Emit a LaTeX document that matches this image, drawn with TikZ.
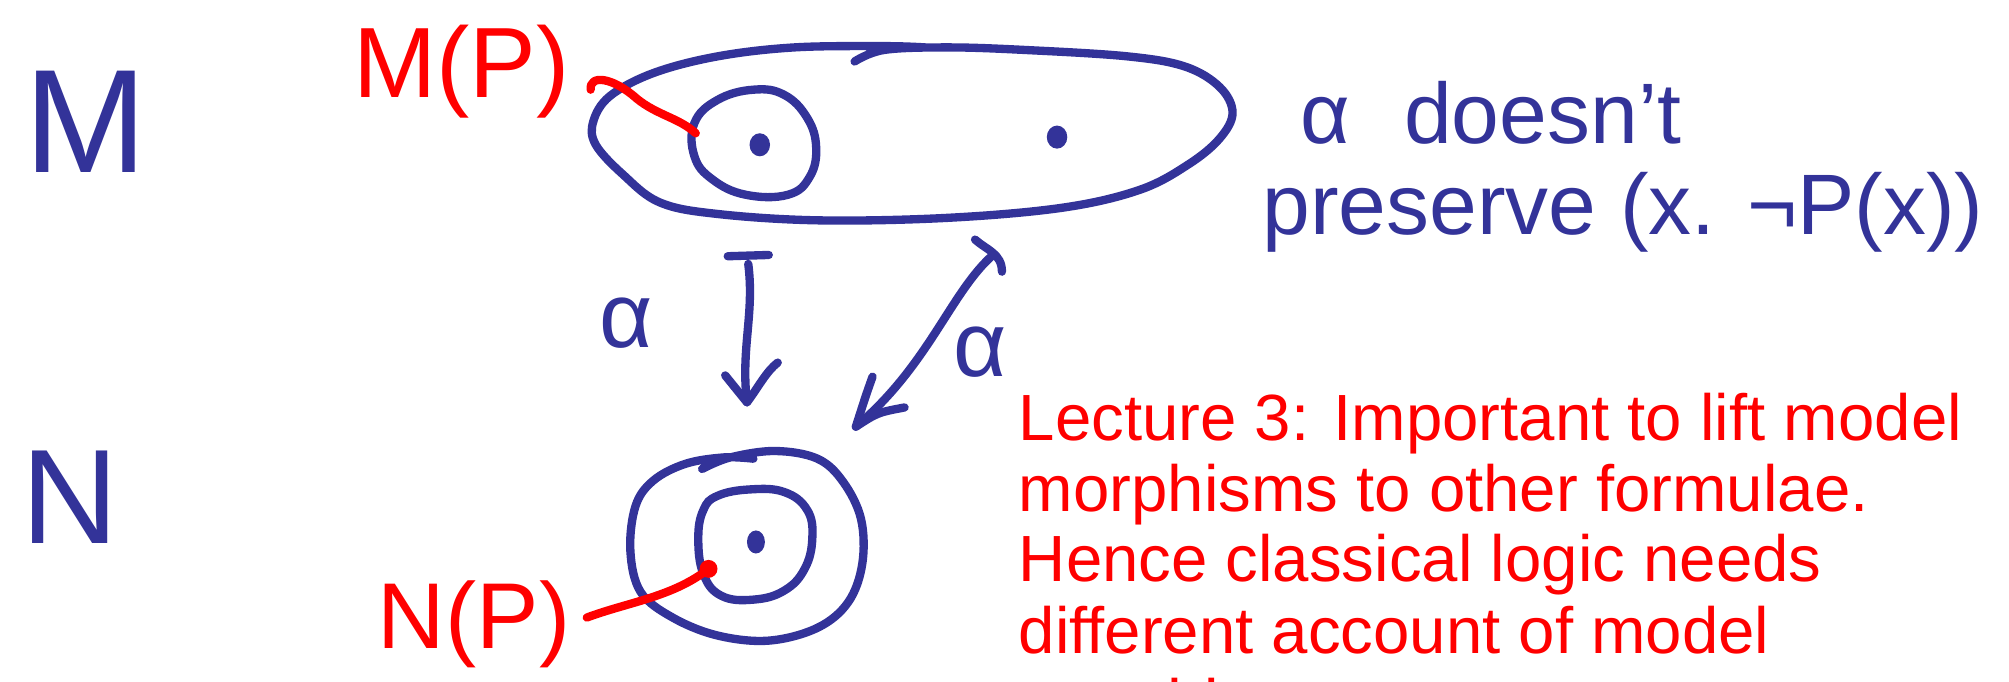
\documentclass[tikz,border=0pt]{standalone}
\usepackage{fontspec}
\setmainfont{Liberation Sans}
\definecolor{ink}{RGB}{51,51,153}
\definecolor{redink}{RGB}{255,0,0}
\tikzset{
  pen/.style={draw=ink, line width=6.5pt, line cap=round, line join=round},
  redpen/.style={draw=redink, line width=6.5pt, line cap=round, line join=round},
  hand/.style={text=ink, inner sep=0pt},
  redhand/.style={text=redink, inner sep=0pt},
  lect/.style={text=redink, anchor=base west, inner sep=0pt, font=\fontsize{51}{55}\selectfont},
}
\begin{document}
\begin{tikzpicture}[x=1pt,y=-1pt]
\useasboundingbox (0,0) rectangle (1568,532);
\clip (0,0) rectangle (1568,532);
\fill[white] (0,0) rectangle (1568,532);

% ---- model labels
\node[hand, font=\fontsize{115}{115}\selectfont] (Mlab) at (67,95) {M};
\node[hand, font=\fontsize{105}{105}\selectfont] (Nlab) at (55,388) {N};

% ---- model M blob
\draw[pen] plot[smooth, tension=0.6] coordinates {
  (667,48) (690,39) (740,37) (800,39) (880,44) (925,52) (952,68) (962,88)
  (952,108) (928,128) (890,148) (830,162) (740,170) (640,172) (560,167)
  (515,158) (486,136) (465,113) (463,95) (476,75) (510,57) (560,44)
  (620,37) (690,36) (722,37)};
% inner circle in M
\draw[pen] plot[smooth cycle, tension=0.7] coordinates {
  (560,78) (588,70) (612,74) (630,92) (637,115) (632,138) (615,152)
  (582,152) (556,140) (542,122) (542,96)};
\fill[ink] (593,113) ellipse (8 and 9);
\fill[ink] (825,107) ellipse (8 and 9);
\coordinate (mpc) at (543,104);

% ---- model N blob
\draw[pen] plot[smooth, tension=0.6] coordinates {
  (548,366) (570,357) (605,352) (638,358) (658,376) (672,405) (673,440)
  (662,470) (638,490) (600,500) (560,496) (525,482) (500,462) (492,430)
  (496,395) (510,375) (535,362) (565,357) (588,358)};
\draw[pen] plot[smooth cycle, tension=0.7] coordinates {
  (560,387) (585,382) (612,384) (630,398) (634,420) (628,444) (612,461)
  (588,468) (563,465) (549,448) (545,420) (549,398)};
\fill[ink] (590,423) ellipse (7 and 9);
\coordinate (npc) at (553,444);

% ---- red labels and leaders
\node[redhand, anchor=base, font=\fontsize{78}{78}\selectfont] (MP) at (360,76) {M(P)};
\node[redhand, anchor=base, font=\fontsize{73}{73}\selectfont] (NP) at (370,506) {N(P)};
\coordinate (mpl) at (461,70);
\draw[redpen] (mpl) .. controls (460,58) and (478,60) .. (497,77)
  .. controls (513,90) and (530,92) .. (mpc);
\coordinate (npl) at (458,482);
\draw[redpen] (npl) .. controls (490,470) and (525,466) .. (npc);
\fill[redink] (npc) circle (7);

% ---- vertical mapsto arrow
\coordinate (vb1) at (568,200);
\coordinate (vb2) at (600,199);
\coordinate (vtail) at (584,206);
\coordinate (vtip) at (583,314);
\coordinate (vl) at (566,293);
\coordinate (vr) at (607,283);
\draw[pen] (vb1) -- (vb2);
\draw[pen] (vtail) .. controls (589,245) and (578,272) .. (vtip);
\draw[pen] (vl) -- (vtip) .. controls (592,302) and (598,290) .. (vr);

% ---- diagonal mapsto arrow
\coordinate (db1) at (761,187);
\coordinate (db2) at (782,212);
\coordinate (dtail) at (775,199);
\coordinate (dtip) at (668,333);
\coordinate (dl) at (681,294);
\coordinate (dr) at (706,318);
\draw[pen] (db1) .. controls (770,195) and (782,198) .. (db2);
\draw[pen] (dtail) .. controls (742,228) and (725,285) .. (dtip);
\draw[pen] (dl) .. controls (676,308) .. (dtip) .. controls (685,322) .. (dr);

% ---- alpha labels
\node[hand, font=\fontsize{72}{72}\selectfont] (a1) at (489,252) {α};
\node[hand, font=\fontsize{72}{72}\selectfont] (a2) at (765,275) {α};

% ---- remark
\node[hand, anchor=base west, font=\fontsize{67}{67}\selectfont] (r1) at (1015,112) {α\hspace{0.35em} doesn't};
\node[hand, anchor=base west, font=\fontsize{67}{67}\selectfont] (r2) at (985,183) {preserve (x. ¬P(x))};

% ---- lecture note
\node[lect] (l1) at (795,344) {Lecture 3: Important to lift model};
\node[lect] (l2) at (795,399) {morphisms to other formulae.};
\node[lect] (l3) at (795,454) {Hence classical logic needs};
\node[lect] (l4) at (795,510) {different account of model};
\node[lect] (l5) at (795,566) {morphisms};
\end{tikzpicture}
\end{document}
